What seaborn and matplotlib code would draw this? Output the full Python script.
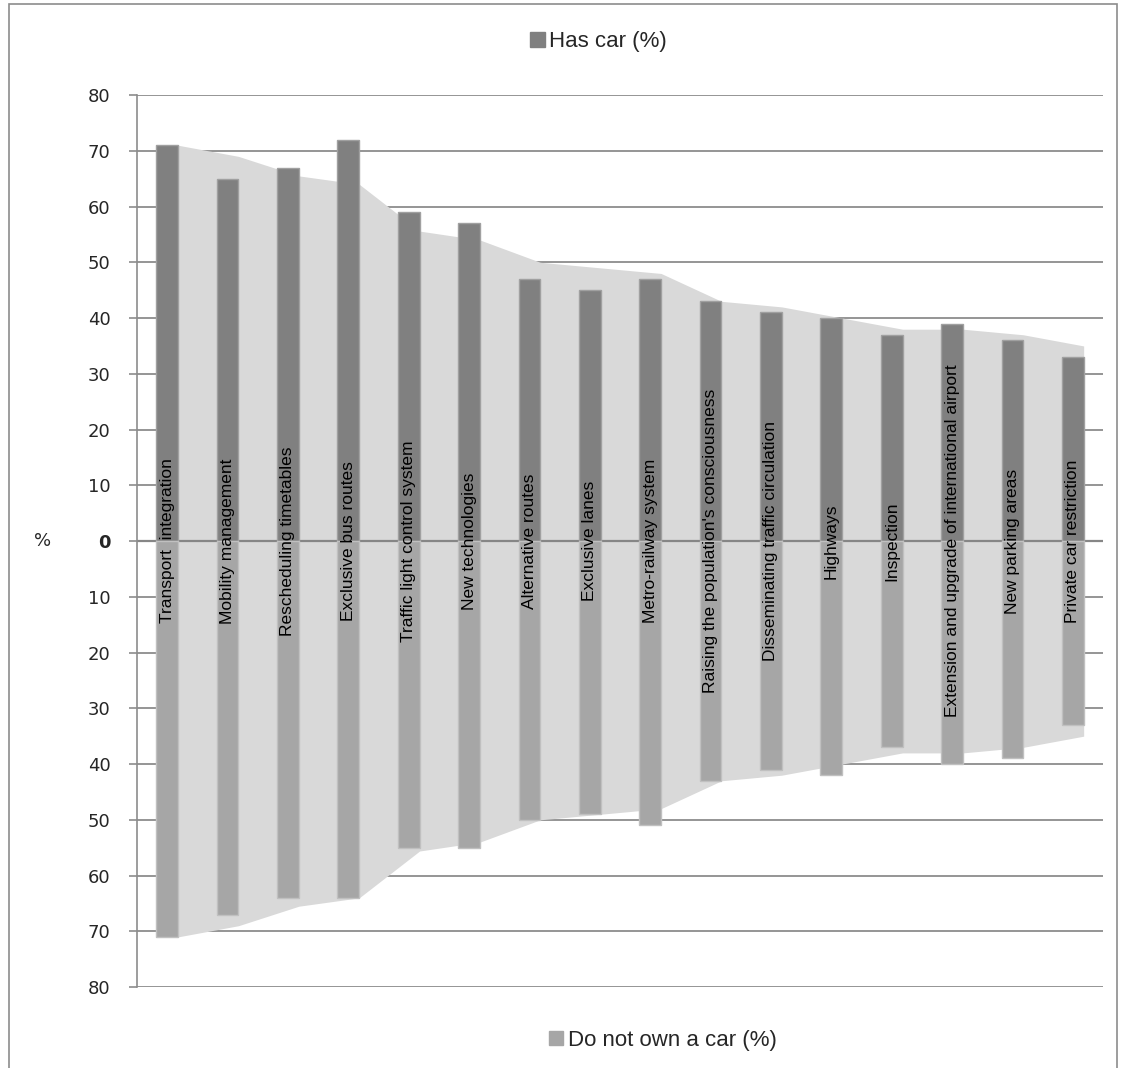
import numpy as np
import pandas as pd
import matplotlib
matplotlib.use("Agg")
import matplotlib.pyplot as plt
from matplotlib.patches import Patch, Rectangle
import seaborn as sns

# ============== DATA ==============
measures = [
    "Transport  integration",
    "Mobility management",
    "Rescheduling timetables",
    "Exclusive bus routes",
    "Traffic light control system",
    "New technologies",
    "Alternative routes",
    "Exclusive lanes",
    "Metro-railway system",
    "Raising the population's consciousness",
    "Disseminating traffic circulation",
    "Highways",
    "Inspection",
    "Extension and upgrade of international airport",
    "New parking areas",
    "Private car restriction",
]
has_car = [71, 65, 67, 72, 59, 57, 47, 45, 47, 43, 41, 40, 37, 39, 36, 33]
no_car = [71, 67, 64, 64, 55, 55, 50, 49, 51, 43, 41, 42, 37, 40, 39, 33]
# average envelope drawn behind the bars
envelope = [71, 69, 65.5, 64, 55.6, 54, 50, 49, 48, 43, 42, 40, 38, 38, 37, 35]

yticks = list(range(-80, 81, 10))

df = pd.DataFrame({"measure": measures, "has_car": has_car,
                   "no_car": [-v for v in no_car]})

# ============== STYLE ==============
sns.set_style("white")
plt.rcParams["font.family"] = ["Liberation Sans", "DejaVu Sans"]

fig = plt.figure(figsize=(11.27, 10.68), dpi=100)
ax = fig.add_axes([0.1216, 0.0758, 0.8571, 0.8352])

# light envelope (sits on the right edge of each bar)
pos = np.arange(len(measures)) + 0.18
env = np.array(envelope)
ax.fill_between(pos, -env, env, color="#d9d9d9", lw=0, zorder=1)

# bars
sns.barplot(data=df, x="measure", y="has_car", color="#808080", width=0.36,
            edgecolor="#a0a0a0", linewidth=1, saturation=1, ax=ax, zorder=3)
sns.barplot(data=df, x="measure", y="no_car", color="#a6a6a6", width=0.36,
            edgecolor="#c0c0c0", linewidth=1, saturation=1, ax=ax, zorder=3)

# grid + zero line
for t in yticks:
    if t != 0:
        ax.axhline(t, color="#8c8c8c", lw=1.3, zorder=0)
ax.axhline(0, color="#868686", lw=1.6, zorder=2)

# labels in bars, centred on the zero line
for i, name in enumerate(measures):
    ax.text(i, 0, name, rotation=90, ha="center", va="center",
            fontsize=12.5, color="black", zorder=4)

ax.set_xlim(-0.5, len(measures) - 0.5)
ax.set_ylim(-80, 80)
ax.set_yticks(yticks)
ax.set_yticklabels([str(abs(t)) for t in yticks])
ax.tick_params(axis="y", direction="out", length=6, width=1.2, color="#8c8c8c",
               labelsize=13, pad=13, left=True, labelfontfamily="DejaVu Sans")
for lab, t in zip(ax.get_yticklabels(), yticks):
    if t == 0:
        lab.set_fontweight("bold")
ax.tick_params(axis="x", bottom=False, labelbottom=False)
ax.set_xlabel("")
ax.set_ylabel("%", rotation=0, fontsize=13, va="center", ha="center",
              family="DejaVu Sans")
ax.yaxis.set_label_coords(-0.098, 0.5)

for s in ["top", "right", "bottom"]:
    ax.spines[s].set_visible(False)
ax.spines["left"].set_color("#8c8c8c")
ax.spines["left"].set_linewidth(1.2)

# legends
fig.legend(handles=[Patch(color="#808080", label="Has car (%)")],
           loc="center", bbox_to_anchor=(0.531, 0.961), frameon=False,
           fontsize=16, handlelength=0.65, handleheight=0.65, handletextpad=0.2)
fig.legend(handles=[Patch(color="#a6a6a6", label="Do not own a car (%)")],
           loc="center", bbox_to_anchor=(0.588, 0.026), frameon=False,
           fontsize=16, handlelength=0.65, handleheight=0.65, handletextpad=0.2)

# outer frame
fig.patches.append(Rectangle((9 / 1127, -0.05), 1108 / 1127, 1.05 - 4 / 1068,
                             transform=fig.transFigure, fill=False,
                             edgecolor="#8c8c8c", lw=1.2))

fig.savefig("out.png", dpi=100)
